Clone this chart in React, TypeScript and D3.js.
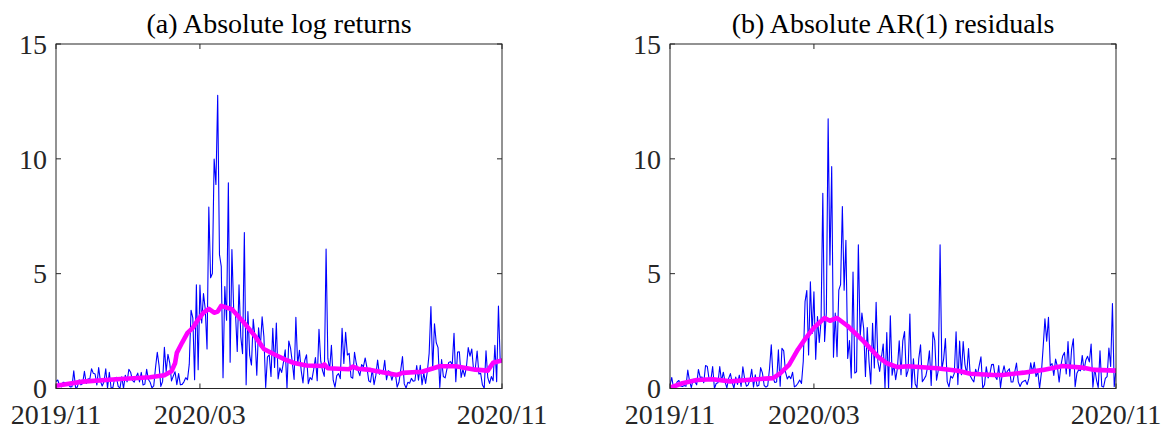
import React from "react";
import * as d3 from "d3";

// Daily absolute log returns (%) — Nov 2019 .. Oct 2020 (trading days)
const absLogReturns: number[] = [
  // 2019/11
  0.30, 0.37, 0.12, 0.07, 0.27, 0.26, 0.20, 0.16, 0.07, 0.08, 0.77, 0.05, 0.06, 0.38, 0.16, 0.22, 0.75, 0.22, 0.42, 0.40,
  // 2019/12
  0.86, 0.66, 0.63, 0.15, 0.91, 0.32, 0.11, 0.29, 0.86, 0.01, 0.71, 0.03, 0.04, 0.45, 0.49, 0.09, 0.02, 0.51, 0.00, 0.58, 0.29,
  // 2020/01
  0.84, 0.71, 0.35, 0.28, 0.49, 0.67, 0.29, 0.70, 0.15, 0.19, 0.84, 0.39, 0.27, 0.03, 0.11, 0.90, 1.58, 1.00, 0.09, 0.31, 1.79,
  // 2020/02
  0.73, 1.49, 1.12, 0.33, 0.54, 0.73, 0.17, 0.65, 0.16, 0.18, 0.29, 0.47, 0.38, 1.06, 3.41, 3.08, 0.38, 4.52, 0.82,
  // 2020/03
  4.50, 2.85, 4.13, 3.45, 1.72, 7.90, 4.82, 5.01, 9.99, 8.88, 12.77, 5.83, 5.32, 0.47, 4.44, 2.97, 8.96, 1.14, 6.05, 3.43, 3.29, 1.61,
  // 2020/04
  4.51, 2.25, 1.52, 6.79, 0.16, 3.35, 1.44, 1.02, 3.01, 2.22, 0.58, 2.64, 1.81, 3.12, 2.26, 0.05, 1.38, 1.46, 0.52, 2.62, 0.92,
  // 2020/05
  2.85, 0.42, 0.90, 0.70, 1.14, 1.68, 0.01, 2.07, 1.76, 1.14, 0.39, 3.10, 1.06, 1.66, 0.78, 0.24, 1.22, 1.47, 0.21, 0.48,
  // 2020/06
  0.38, 0.82, 1.35, 0.34, 2.58, 1.19, 0.78, 0.53, 6.07, 1.30, 0.83, 1.88, 0.36, 0.06, 0.56, 0.65, 0.43, 2.62, 1.09, 2.45, 1.46, 1.53,
  // 2020/07
  0.50, 0.45, 1.58, 1.09, 0.78, 0.56, 1.04, 0.94, 1.33, 0.91, 0.34, 0.28, 0.84, 0.17, 0.57, 1.24, 0.62, 0.74, 0.65, 1.23, 0.38, 0.77,
  // 2020/08
  0.72, 0.36, 0.64, 0.64, 0.06, 0.27, 0.80, 1.39, 0.20, 0.02, 0.27, 0.23, 0.44, 0.32, 0.34, 1.00, 0.36, 1.01, 0.17, 0.67, 0.22,
  // 2020/09
  0.75, 1.53, 3.57, 0.81, 2.82, 1.99, 1.78, 0.05, 1.26, 0.52, 0.46, 0.84, 1.13, 1.17, 1.04, 2.40, 0.30, 1.59, 1.60, 0.48, 0.83,
  // 2020/10
  0.53, 0.96, 1.78, 1.41, 1.72, 0.80, 0.88, 1.63, 0.63, 0.66, 0.15, 0.01, 1.64, 0.47, 0.22, 0.52, 0.34, 1.88, 0.30, 3.59, 1.18, 1.22,
];

// Absolute AR(1) residuals (%)
const absAR1Residuals: number[] = [
  // 2019/11
  0.15, 0.48, 0.01, 0.03, 0.29, 0.35, 0.11, 0.09, 0.13, 0.10, 0.80, 0.32, 0.04, 0.40, 0.29, 0.16, 0.83, 0.48, 0.50, 0.25,
  // 2019/12
  1.00, 0.96, 0.40, 0.37, 0.96, 0.00, 0.22, 0.25, 0.96, 0.31, 0.71, 0.28, 0.03, 0.44, 0.65, 0.26, 0.01, 0.50, 0.18, 0.58, 0.09,
  // 2020/01
  0.94, 0.42, 0.10, 0.16, 0.39, 0.84, 0.06, 0.60, 0.10, 0.14, 0.91, 0.68, 0.13, 0.06, 0.12, 0.86, 1.90, 0.45, 0.26, 0.28, 1.68,
  // 2020/02
  0.10, 1.75, 1.64, 0.72, 0.42, 0.54, 0.43, 0.71, 0.07, 0.12, 0.23, 0.37, 0.22, 1.19, 3.78, 4.27, 1.46, 4.65, 2.40,
  // 2020/03
  4.21, 1.27, 3.13, 2.00, 2.93, 8.50, 2.05, 3.32, 11.74, 5.38, 9.66, 1.36, 3.28, 1.39, 4.28, 4.52, 7.92, 4.28, 6.45, 1.31, 2.09, 0.46,
  // 2020/04
  5.07, 0.67, 0.73, 6.26, 2.22, 3.29, 2.61, 0.52, 2.65, 1.17, 0.20, 2.84, 0.89, 3.75, 1.17, 0.74, 1.36, 1.94, 0.01, 2.44, 0.00,
  // 2020/05
  3.17, 0.58, 1.05, 0.38, 0.89, 2.08, 0.60, 2.07, 2.48, 0.52, 0.79, 3.24, 0.03, 1.29, 0.20, 0.03, 1.30, 1.90, 0.30, 0.41,
  // 2020/06
  0.55, 0.95, 1.64, 0.13, 2.46, 2.09, 0.36, 0.80, 6.26, 0.82, 1.29, 2.17, 0.30, 0.07, 0.54, 0.45, 0.66, 2.47, 0.17, 2.07, 0.60, 2.04,
  // 2020/07
  1.04, 0.63, 1.74, 0.54, 0.40, 0.29, 0.84, 0.58, 1.00, 1.38, 0.02, 0.16, 0.94, 0.46, 0.63, 1.04, 1.05, 0.52, 0.39, 1.00, 0.05, 0.64,
  // 2020/08
  0.99, 0.61, 0.77, 0.86, 0.28, 0.29, 0.71, 1.11, 0.29, 0.09, 0.26, 0.32, 0.36, 0.17, 0.45, 1.12, 0.71, 1.14, 0.52, 0.73, 0.01,
  // 2020/09
  0.67, 1.79, 3.03, 2.06, 3.10, 1.00, 1.08, 0.57, 1.28, 0.96, 0.28, 1.00, 1.42, 1.57, 0.63, 2.04, 0.54, 1.70, 2.16, 0.08, 0.66,
  // 2020/10
  0.82, 0.77, 1.44, 0.79, 1.23, 1.40, 1.16, 1.94, 0.06, 0.88, 0.38, 0.04, 1.64, 0.10, 0.06, 0.44, 0.52, 1.76, 0.96, 3.70, 0.08, 0.81,
];

// Smoothed volatility (magenta) — trading-day index and value
const trendAIdx = [0, 15, 34, 53, 61, 65, 67, 68, 71, 74, 77, 80, 83, 86, 89, 91, 93, 99, 105, 112, 117, 123, 129, 134, 141, 150, 151, 153, 165, 167, 170, 177, 192, 195, 206, 216, 225, 236, 243, 246, 251];
const trendAVal = [0.12, 0.30, 0.40, 0.49, 0.58, 0.75, 1.10, 1.55, 2.00, 2.42, 2.64, 3.00, 3.30, 3.47, 3.30, 3.35, 3.60, 3.45, 2.94, 2.28, 1.72, 1.48, 1.26, 1.11, 1.00, 0.98, 1.05, 0.88, 0.84, 0.95, 0.86, 0.81, 0.59, 0.68, 0.73, 0.97, 0.97, 0.82, 0.78, 1.12, 1.22];

const trendBIdx = [0, 7, 15, 24, 34, 43, 58, 62, 67, 72, 76, 81, 87, 90, 94, 100, 109, 117, 122, 128, 134, 150, 162, 169, 182, 187, 199, 210, 221, 232, 239, 251];
const trendBVal = [0.03, 0.23, 0.37, 0.40, 0.31, 0.37, 0.45, 0.66, 1.03, 1.70, 2.15, 2.65, 3.07, 2.95, 3.07, 2.72, 2.05, 1.39, 1.10, 0.93, 0.97, 0.88, 0.77, 0.64, 0.59, 0.59, 0.69, 0.81, 0.98, 0.91, 0.81, 0.78];

const xTickIdx = [0, 81, 251];
const xTickLabels = ["2019/11", "2020/03", "2020/11"];
const yTicks = [0, 5, 10, 15];
const titles = ["(a) Absolute log returns", "(b) Absolute AR(1) residuals"];

const FONT = "'Liberation Serif', 'Times New Roman', Times, serif";
const TOP = 44;
const BOTTOM = 388.5;

type PanelProps = {
  id: string;
  left: number;
  right: number;
  title: string;
  values: number[];
  tIdx: number[];
  tVal: number[];
};

function Panel({ id, left, right, title, values, tIdx, tVal }: PanelProps) {
  const x = d3.scaleLinear().domain([0, values.length - 1]).range([left, right]);
  const y = d3.scaleLinear().domain([0, 15]).range([BOTTOM, TOP]);
  const blue = d3
    .line<number>()
    .x((_, i) => x(i))
    .y((d) => y(d))(values) as string;
  const trendPts = tIdx.map((t, i) => [t, tVal[i]] as [number, number]);
  const magenta = d3
    .line<[number, number]>()
    .x((d) => x(d[0]))
    .y((d) => y(d[1]))(trendPts) as string;
  const tick = 5;
  const axisColor = "#262626";
  return (
    <g>
      <defs>
        <clipPath id={id}>
          <rect x={left} y={TOP} width={right - left} height={BOTTOM - TOP} />
        </clipPath>
      </defs>
      <text
        x={(left + right) / 2}
        y={33}
        textAnchor="middle"
        fontFamily={FONT}
        fontSize={28}
        fill="#000"
      >
        {title}
      </text>
      <g clipPath={`url(#${id})`}>
        <path d={blue} fill="none" stroke="#0000ff" strokeWidth={1.1} strokeLinejoin="round" />
        <path d={magenta} fill="none" stroke="#ff00ff" strokeWidth={4.6} strokeLinejoin="round" strokeLinecap="round" />
      </g>
      <rect
        x={left}
        y={TOP}
        width={right - left}
        height={BOTTOM - TOP}
        fill="none"
        stroke={axisColor}
        strokeWidth={1}
      />
      {yTicks.map((t) => (
        <g key={"y" + t}>
          <line x1={left} x2={left + tick} y1={y(t)} y2={y(t)} stroke={axisColor} strokeWidth={1} />
          <line x1={right} x2={right - tick} y1={y(t)} y2={y(t)} stroke={axisColor} strokeWidth={1} />
          <text
            x={left - 9}
            y={y(t)}
            dy="0.35em"
            textAnchor="end"
            fontFamily={FONT}
            fontSize={28}
            fill="#262626"
          >
            {t}
          </text>
        </g>
      ))}
      {xTickIdx.map((t, i) => (
        <g key={"x" + t}>
          <line x1={x(t)} x2={x(t)} y1={BOTTOM} y2={BOTTOM - tick} stroke={axisColor} strokeWidth={1} />
          <line x1={x(t)} x2={x(t)} y1={TOP} y2={TOP + tick} stroke={axisColor} strokeWidth={1} />
          <text
            x={x(t)}
            y={424}
            textAnchor="middle"
            fontFamily={FONT}
            fontSize={28}
            fill="#262626"
          >
            {xTickLabels[i]}
          </text>
        </g>
      ))}
    </g>
  );
}

export default function App() {
  return (
    <svg
      width={1164}
      height={427}
      viewBox="0 0 1164 427"
      style={{ position: "absolute", left: 0, top: 0, background: "#fff" }}
    >
      <rect x={0} y={0} width={1164} height={427} fill="#fff" />
      <Panel
        id="clipA"
        left={56}
        right={502}
        title={titles[0]}
        values={absLogReturns}
        tIdx={trendAIdx}
        tVal={trendAVal}
      />
      <Panel
        id="clipB"
        left={670}
        right={1116}
        title={titles[1]}
        values={absAR1Residuals}
        tIdx={trendBIdx}
        tVal={trendBVal}
      />
    </svg>
  );
}
